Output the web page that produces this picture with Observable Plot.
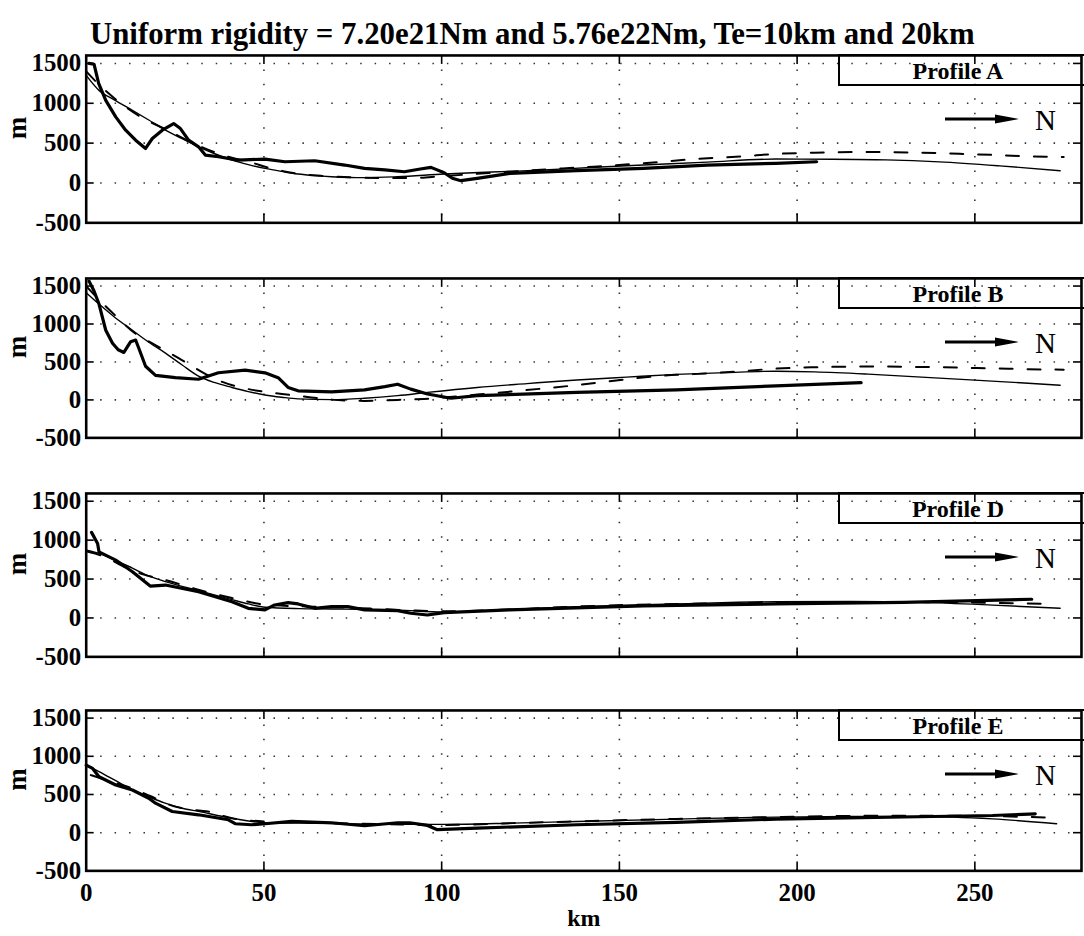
<!DOCTYPE html>
<html>
<head>
<meta charset="utf-8">
<script src="https://cdn.jsdelivr.net/npm/d3@7"></script>
<script src="https://cdn.jsdelivr.net/npm/@observablehq/plot@0.6"></script>
<style>
  html, body { margin: 0; padding: 0; background: #fff; }
  #root { position: relative; width: 1084px; height: 936px; overflow: hidden;
          font-family: "Liberation Serif", "Times New Roman", serif; color: #000; }
  #title { position: absolute; left: 90px; top: 19px; font-size: 30.8px; font-weight: bold;
           white-space: nowrap; line-height: 1; }
  .panel { position: absolute; left: 0; }
  .box { position: absolute; box-sizing: border-box; border: 2px solid #000; }
  .plabel { position: absolute; font-size: 24px; font-weight: bold; line-height: 1;
            transform: translate(-50%, -50%); white-space: nowrap; }
  .north { position: absolute; font-size: 29px; line-height: 1; transform: translateY(-50%); }
  .arrow { position: absolute; }
</style>
</head>
<body>
<div id="root">
  <div id="title">Uniform rigidity = 7.20e21Nm and 5.76e22Nm, Te=10km and 20km</div>
</div>
<script>
// ---------- data ----------
const KM_TICKS = [0, 50, 100, 150, 200, 250];
const M_TICKS = [-500, 0, 500, 1000, 1500];
const X_DOMAIN = [0, 280];
const Y_DOMAIN = [-500, 1600];
const PANELS = ["A", "B", "D", "E"];
const PANEL_LABELS = ["Profile A", "Profile B", "Profile D", "Profile E"];
const NORTH_LABEL = "N";
const TITLE = "Uniform rigidity = 7.20e21Nm and 5.76e22Nm, Te=10km and 20km";

// Profile A  [km, m]
const profileA_observed = [[0.8,1500],[2.2,1490],[3.5,1250],[5.5,1037],[8.3,830],[11.1,662],[13.9,537],[16.7,433],[18.6,558],[21.4,662],[24.6,746],[26.5,683],[28.8,537],[31.6,454],[33.5,350],[37.2,329],[42.8,287],[50.3,300],[55.9,266],[64.3,279],[72.7,225],[78.3,183],[84,165],[89.5,141],[94,175],[97,196],[100.7,129],[103,60],[105.4,29],[110,58],[119.3,121],[138,154],[156.7,183],[174.7,225],[194,246],[205.5,266]];
const profileA_te10 = [[0,1350],[3.6,1162],[8,1040],[13,912],[17.6,790],[22.3,662],[27,555],[31.6,454],[36,370],[41,287],[45.6,230],[50.3,183],[55,145],[59.6,112],[64.3,92],[69,79],[78.3,67],[87.6,79],[100.7,112],[114,137],[128.7,162],[142,195],[156.7,225],[174.7,262],[194,300],[210,298],[225,290],[240,265],[257,215],[274,154]];
const profileA_te20 = [[0,1400],[3,1260],[8,1060],[15.3,830],[23,660],[30,500],[38,356],[46,262],[53,173],[59,120],[66,90],[75,70],[85,62],[91,62],[100,85],[110,115],[120,145],[134,183],[142.7,204],[156,245],[170,296],[185.6,337],[193,362],[205,380],[220,390],[235,380],[250,360],[270,329],[275,325]];

// Profile B
const profileB_observed = [[0.8,1565],[2.2,1435],[3.6,1263],[5.5,918],[7.4,746],[9,660],[10.6,625],[12.5,767],[13.9,789],[14.8,681],[16.7,444],[19.5,323],[25.1,293],[31.6,272],[34.4,314],[37.2,358],[44.7,392],[50.3,357],[54,293],[56.8,164],[59.6,120],[69,107],[78.3,133],[84,175],[87.6,207],[91.3,142],[96,78],[102.6,22],[110,56],[138,99],[166,133],[194,185],[218,228]];
const profileB_te10 = [[0,1413],[3.6,1263],[8,1090],[13,918],[17.6,760],[22.3,617],[27,460],[31.6,314],[36,230],[41,164],[45.6,110],[50.3,65],[55,35],[59.6,13],[69,4],[78.3,22],[87.6,56],[96,99],[110,164],[124,215],[138,263],[152,300],[166,336],[180,360],[194,378],[205,370],[220,340],[235,300],[250,260],[265,220],[274,194]];
const profileB_te20 = [[0,1500],[3,1350],[8,1120],[13.9,873],[17.6,770],[21.9,659],[26,550],[29.5,452],[34,330],[38.3,237],[44.8,151],[53,90],[60.7,48],[69,4],[78.3,-13],[87.6,0],[95,13],[110,70],[128.7,151],[136,185],[152,272],[161,314],[175,350],[184.7,379],[193,409],[205,430],[220,440],[240,430],[255,415],[270,401],[275,398]];

// Profile D
const profileD_observed = [[1.5,1100],[3.2,958],[3.6,850],[8.3,744],[13,594],[18,410],[22.3,423],[31.6,337],[41,209],[45.6,124],[50.3,103],[53,167],[56.8,196],[59.6,180],[64.3,124],[69,145],[73.6,145],[78.3,103],[87.6,94],[91.3,60],[96,38],[100.7,68],[119,103],[156.7,154],[194,180],[230,200],[266,240]];
const profileD_te10 = [[0,870],[3.6,830],[8.3,740],[13,640],[17.6,540],[22.3,466],[31.6,350],[41,235],[45.6,180],[50.3,137],[60,120],[69,115],[87.6,100],[100.7,77],[120,110],[138,145],[166,180],[194,209],[215,212],[235,200],[255,165],[274,124]];
const profileD_te20 = [[0.5,850],[5,790],[11,650],[16,560],[22.3,487],[31,370],[41,256],[50.3,171],[60,150],[69,141],[80,120],[90,100],[100,85],[120,110],[140,150],[166,180],[194,195],[220,205],[245,200],[270,180]];

// Profile E
const profileE_observed = [[0,884],[1.8,841],[3.6,732],[8.3,624],[13,559],[17.6,451],[19.5,386],[24.2,277],[31.6,234],[40,169],[41.9,117],[46.5,104],[50.3,117],[57.8,147],[69,130],[78.3,91],[87.6,130],[91,130],[96,95],[98.8,39],[110,60],[138,104],[166,134],[194,178],[230,205],[255,225],[267,247]];
const profileE_te10 = [[0,884],[3.6,800],[8.3,680],[13,560],[17.6,470],[22,390],[27,320],[31.6,278],[41,190],[50,130],[60,125],[69,121],[87.6,108],[100.7,108],[120,125],[138,147],[166,178],[194,204],[215,212],[235,212],[255,180],[273,117]];
const profileE_te20 = [[1.3,754],[5,700],[9,640],[13,580],[18,480],[24.5,347],[30,300],[33.8,280],[41,190],[50,147],[60,135],[69,125],[85,110],[100,100],[120,125],[140,150],[166,180],[194,205],[220,221],[245,221],[270,199]];

const SERIES = {
  A: [profileA_observed, profileA_te10, profileA_te20],
  B: [profileB_observed, profileB_te10, profileB_te20],
  D: [profileD_observed, profileD_te10, profileD_te20],
  E: [profileE_observed, profileE_te10, profileE_te20]
};

// ---------- layout ----------
const LAYOUT = [
  {top: 55, h: 168},
  {top: 278, h: 160},
  {top: 493, h: 164},
  {top: 710, h: 161}
];
const W = 1088, ML = 86, MR = 3, MT = 10;
const FONT = "'Liberation Serif','Times New Roman',serif";
const root = document.getElementById("root");
document.getElementById("title").textContent = TITLE;

PANELS.forEach((name, i) => {
  const {top, h} = LAYOUT[i];
  const last = i === PANELS.length - 1;
  const MB = last ? 936 - (top + h) : 10;
  const pxPerKm = (W - ML - MR) / (X_DOMAIN[1] - X_DOMAIN[0]);
  const pxPerM = h / (Y_DOMAIN[1] - Y_DOMAIN[0]);
  const tkKm = 8 / pxPerKm, tkM = 9 / pxPerM;
  const [obs, te10, te20] = SERIES[name];
  const grid = {stroke: "#000", strokeWidth: 1.6, strokeDasharray: "1.5,13", strokeOpacity: 0.8};
  const tickStyle = {stroke: "#000", strokeWidth: 1.6};

  const marks = [
    Plot.gridY(M_TICKS.filter(d => d > Y_DOMAIN[0]), grid),
    Plot.gridX(KM_TICKS.filter(d => d > X_DOMAIN[0]), grid),
    Plot.line(te20, {x: d => d[0], y: d => d[1], stroke: "#000", strokeWidth: 2, strokeDasharray: "13,15", curve: "monotone-x"}),
    Plot.line(te10, {x: d => d[0], y: d => d[1], stroke: "#000", strokeWidth: 1.4, curve: "monotone-x"}),
    Plot.line(obs, {x: d => d[0], y: d => d[1], stroke: "#000", strokeWidth: 3.2, strokeLinejoin: "round"}),
    Plot.ruleY(M_TICKS, {y: d => d, x1: X_DOMAIN[0], x2: X_DOMAIN[0] + tkKm, ...tickStyle}),
    Plot.ruleY(M_TICKS, {y: d => d, x1: X_DOMAIN[1] - tkKm, x2: X_DOMAIN[1], ...tickStyle}),
    Plot.ruleX(KM_TICKS, {x: d => d, y1: Y_DOMAIN[0], y2: Y_DOMAIN[0] + tkM, ...tickStyle}),
    Plot.ruleX(KM_TICKS, {x: d => d, y1: Y_DOMAIN[1] - tkM, y2: Y_DOMAIN[1], ...tickStyle}),
    Plot.frame({stroke: "#000", strokeWidth: 2.6}),
    Plot.axisY(M_TICKS, {tickSize: 0, tickPadding: 5, tickFormat: d => String(d), fontSize: 25, fontWeight: "bold", label: null}),
    Plot.text(["m"], {frameAnchor: "left", dx: -69, rotate: -90, fontSize: 27, fontWeight: "bold"})
  ];
  if (last) {
    marks.push(Plot.axisX(KM_TICKS, {tickSize: 0, tickPadding: 12, fontSize: 25, fontWeight: "bold", label: null}));
    marks.push(Plot.text(["km"], {frameAnchor: "bottom", dy: 55, fontSize: 24, fontWeight: "bold"}));
  }

  const plot = Plot.plot({
    width: W, height: MT + h + MB,
    marginLeft: ML, marginRight: MR, marginTop: MT, marginBottom: MB,
    x: {domain: X_DOMAIN, axis: last ? undefined : null},
    y: {domain: Y_DOMAIN, axis: null},
    style: {fontFamily: FONT, background: "transparent", color: "#000", overflow: "visible"},
    marks
  });
  const wrap = document.createElement("div");
  wrap.className = "panel";
  wrap.style.top = (top - MT) + "px";
  wrap.appendChild(plot);
  root.appendChild(wrap);

  // legend box
  const box = document.createElement("div");
  box.className = "box";
  Object.assign(box.style, {left: "838px", top: (top - 1) + "px", width: "260px", height: "32px"});
  root.appendChild(box);
  const lab = document.createElement("div");
  lab.className = "plabel";
  lab.textContent = PANEL_LABELS[i];
  Object.assign(lab.style, {left: "958px", top: (top + 16) + "px"});
  root.appendChild(lab);

  // north arrow
  const svgNS = "http://www.w3.org/2000/svg";
  const arr = document.createElementNS(svgNS, "svg");
  arr.setAttribute("class", "arrow");
  arr.setAttribute("width", "80");
  arr.setAttribute("height", "14");
  arr.style.left = "943px";
  arr.style.top = (top + 57) + "px";
  const ln = document.createElementNS(svgNS, "line");
  ln.setAttribute("x1", "2"); ln.setAttribute("y1", "7");
  ln.setAttribute("x2", "56"); ln.setAttribute("y2", "7");
  ln.setAttribute("stroke", "#000"); ln.setAttribute("stroke-width", "3");
  const hd = document.createElementNS(svgNS, "polygon");
  hd.setAttribute("points", "52,2.5 76,7 52,11.5");
  hd.setAttribute("fill", "#000");
  arr.appendChild(ln); arr.appendChild(hd);
  root.appendChild(arr);
  const n = document.createElement("div");
  n.className = "north";
  n.textContent = NORTH_LABEL;
  Object.assign(n.style, {left: "1035px", top: (top + 65) + "px"});
  root.appendChild(n);
});
</script>
</body>
</html>
